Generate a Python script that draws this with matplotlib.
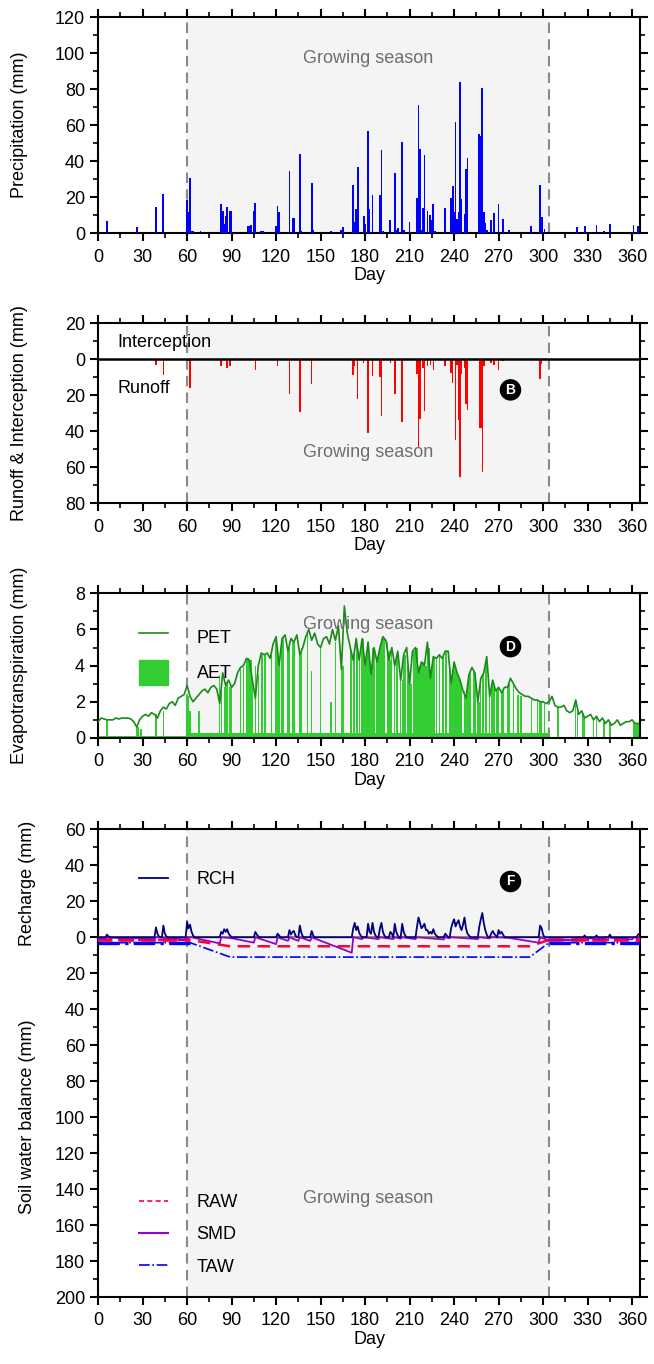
import numpy as np
import matplotlib.pyplot as plt
from matplotlib.ticker import MultipleLocator, FuncFormatter
from matplotlib.lines import Line2D
from matplotlib.patches import Patch

plt.rcParams['font.family'] = ['Liberation Sans', 'DejaVu Sans']
plt.rcParams['font.size'] = 13

# Estação de crescimento (dias)
season_start = 60
season_end = 304

# Precipitação diária (dia, mm)
rain_days = [6, 26, 39, 44, 60, 61, 62, 63, 64, 69, 83, 84, 85, 86, 87, 89, 90,
             101, 102, 103, 105, 106, 110, 111, 120, 121, 122, 129, 131, 132, 136,
             137, 144, 145, 157, 164, 165, 172, 173, 174, 175, 179, 180, 182, 183,
             185, 190, 191, 192, 197, 200, 201, 202, 205, 206, 210, 215, 216, 217,
             218, 219, 220, 222, 224, 225, 226, 227, 234, 238, 239, 240, 241, 242,
             243, 244, 245, 247, 248, 249, 257, 258, 259, 260, 261, 262, 265, 267,
             270, 273, 277, 292, 298, 299, 301, 323, 328, 336, 341, 345, 361, 364]
rain_mm = [7, 3.3, 14.6, 22, 18.5, 12, 30.5, 1.5, 1, 1.5, 16.5, 12.5, 5, 9.5, 14.5, 12.5, 12.5,
           4, 4, 4.5, 12.5, 17, 1.3, 1.3, 4, 15.3, 12, 34.3, 8.5, 8.5, 44,
           1, 28, 2, 1.5, 2, 3.5, 27, 6, 13.5, 36.5, 9.5, 5, 57, 13.5,
           21.5, 21.5, 46, 1, 7.5, 33.5, 2, 3, 50.5, 2, 6.5, 19.5, 71, 47,
           2, 14, 43.5, 12.5, 10, 7.5, 16, 1, 14, 19.5, 26, 12, 61.5, 8,
           12, 84, 19, 10.5, 35.5, 42, 55, 54, 80.5, 12, 5.5, 2, 7.5, 11,
           16, 8, 2, 4, 27, 9, 2.5, 3.5, 4, 4.5, 1, 5, 4.5, 4]

# Escoamento superficial (dia, mm)
runoff_days = [39, 44, 61, 62, 83, 87, 89, 106, 121, 129, 136, 144, 172, 173, 175,
               179, 182, 185, 190, 191, 197, 200, 205, 215, 216, 217, 219, 220, 222,
               224, 226, 234, 238, 239, 241, 242, 243, 244, 245, 247, 248, 249, 257,
               258, 259, 260, 265, 267, 270, 273, 298, 299]
runoff_mm = [3, 9, 1, 16, 4, 5, 3.5, 6, 4, 19.5, 29.5, 14, 9, 4, 22,
             2, 41, 9.5, 10, 31.5, 2, 19.5, 35, 8, 49.5, 33, 5, 29, 4,
             3, 6, 4, 7.5, 13, 45, 3, 34, 65.5, 8, 5, 25, 28, 38,
             38, 62.5, 4, 2, 3, 6, 1, 11, 2.5]

# Evapotranspiração potencial, a cada 2 dias (dias 0, 2, ..., 364)
pet_days = list(range(0, 365, 2))
pet_mm = [0.9, 1.1, 1.05, 1.0, 1.0, 1.0, 1.1, 1.05, 1.1, 1.1,
          1.1, 1.05, 0.9, 0.6, 1.0, 1.2, 1.3, 1.2, 1.4, 1.3,
          1.1, 1.5, 1.7, 1.6, 1.9, 2.0, 1.8, 2.2, 2.3, 2.4,
          2.9, 2.3, 2.0, 2.2, 2.4, 2.6, 2.7, 2.5, 2.8, 2.9,
          2.7, 1.9, 3.6, 2.9, 3.2, 2.8, 3.0, 3.6, 3.9, 4.0,
          4.4, 4.3, 3.2, 2.2, 4.0, 4.7, 4.6, 4.7, 4.4, 5.2,
          5.6, 4.0, 5.5, 5.7, 4.8, 5.5, 5.3, 5.7, 4.6, 5.0,
          5.6, 6.0, 5.4, 5.8, 5.2, 5.0, 5.5, 5.6, 5.2, 6.0,
          5.4, 6.2, 3.8, 7.3, 5.8, 5.0, 4.3, 5.5, 4.3, 5.5,
          4.0, 5.3, 3.5, 5.0, 4.2, 5.0, 5.6, 5.4, 4.3, 5.0,
          4.0, 4.8, 3.2, 4.6, 5.0, 3.0, 4.8, 5.0, 3.6, 4.2,
          4.0, 5.3, 3.3, 4.5, 4.4, 4.6, 4.4, 4.8, 4.8, 3.0,
          4.2, 3.6, 3.2, 2.6, 2.2, 3.5, 3.9, 3.6, 2.0, 3.3,
          3.6, 4.5, 2.3, 3.2, 2.6, 2.8, 2.5, 2.8, 2.8, 3.3,
          3.0, 2.7, 2.5, 2.4, 2.3, 2.3, 2.2, 2.1, 2.1, 2.0,
          2.0, 1.9, 2.0, 2.3, 1.8, 1.7, 1.7, 1.8, 1.5, 1.4,
          1.5, 2.1, 1.3, 1.5, 1.1, 1.2, 1.3, 1.0, 1.2, 0.9,
          1.1, 0.8, 1.0, 0.7, 0.8, 1.0, 0.7, 0.8, 0.9, 0.9,
          1.0, 0.8, 0.8]

# Evapotranspiração real: dias com AET alta (dia, mm)
aet_days = [6, 26, 27, 29, 39, 44, 60, 61, 62, 68, 82, 83, 85, 86, 87, 89, 90,
            96, 98, 100, 101, 102, 103, 104, 106, 108, 110, 111, 112, 113, 117,
            120, 121, 122, 124, 125, 128, 129, 131, 132, 136, 137, 141, 144, 150,
            157, 160, 164, 165,
            170, 171, 172, 173, 174, 175, 176, 178, 179, 180, 181, 182, 183, 184,
            185, 186, 188, 189, 190, 191, 192, 193, 195, 196, 197, 198, 200, 201,
            202, 204, 205, 206, 207, 209, 210, 211, 213, 214, 215, 216, 217, 218,
            219, 220, 221, 222, 223, 224, 225, 226, 227, 228, 230, 232, 233, 234,
            235, 237, 238, 239, 240, 241, 242, 243, 244, 245, 247, 248, 249, 250,
            251, 253, 254, 256, 257, 258, 259, 260, 261, 262, 264, 265, 266, 267,
            269, 270, 272, 273, 276, 277, 280, 283, 285, 292, 296, 298, 299, 301,
            310, 322, 323, 327, 328, 334, 336, 341, 345, 361, 362, 363, 364]
aet_mm = [1.0, 0.6, 0.6, 0.5, 1.3, 1.5, 2.4, 2.3, 1.5, 1.5, 3.5, 3.0, 2.8, 2.9, 3.1, 2.8, 2.8,
          3.8, 3.9, 4.3, 4.4, 4.2, 4.3, 3.2, 4.0, 3.5, 4.6, 4.6, 4.6, 4.6, 4.6,
          5.5, 5.0, 4.0, 5.4, 5.6, 4.8, 5.0, 5.3, 5.3, 4.6, 5.0, 5.8, 3.7, 5.0,
          2.0, 5.3, 3.8, 4.0,
          5.0, 4.6, 4.3, 5.0, 5.5, 5.0, 4.3, 5.4, 5.5, 4.0, 4.6, 5.3, 4.5, 3.5,
          5.0, 5.0, 4.2, 4.6, 5.0, 5.5, 5.6, 5.5, 5.3, 4.8, 4.3, 5.0, 4.0, 4.5,
          4.8, 3.2, 3.2, 4.6, 4.6, 4.0, 3.0, 3.0, 4.8, 4.9, 5.0, 3.6, 4.0, 4.2,
          4.2, 4.0, 4.0, 5.3, 5.0, 3.3, 4.0, 4.5, 4.5, 4.4, 4.6, 4.4, 4.6, 4.8,
          4.8, 3.9, 3.0, 3.5, 4.2, 4.0, 3.6, 3.4, 3.2, 2.9, 2.6, 2.2, 2.8, 3.5,
          3.7, 3.7, 3.6, 2.0, 2.0, 3.3, 3.4, 3.6, 4.0, 4.5, 2.3, 3.0, 3.2, 2.9,
          2.7, 2.8, 2.5, 2.6, 2.8, 3.0, 3.0, 2.4, 2.3, 2.2, 2.1, 2.0, 2.0, 1.9,
          1.7, 2.0, 1.5, 1.4, 1.1, 1.0, 1.2, 0.9, 0.9, 0.9, 0.8, 0.8, 0.8]
# AET de base por trecho (início do trecho, mm)
aet_base_start = [0, 60, 305]
aet_base_mm = [0.08, 0.3, 0.06]

# Recarga (dia, mm)
rch_days = [6, 7, 39, 40, 41, 44, 45, 46, 60, 61, 62, 63, 64, 83, 84, 85, 86, 87, 88, 89,
            106, 107, 108, 121, 122, 129, 130, 131, 132, 133, 136, 137, 138, 144, 145,
            172, 173, 174, 175, 176, 177, 182, 183, 184, 185, 186, 187, 190, 191, 192, 193,
            197, 198, 200, 201, 202, 205, 206, 207, 215, 216, 217, 218, 219, 220, 221, 222,
            223, 224, 225, 226, 227, 228, 234, 235, 238, 239, 240, 241, 242, 243, 244, 245,
            246, 247, 248, 249, 250, 257, 258, 259, 260, 261, 262, 265, 266, 267, 268, 270,
            271, 272, 273, 298, 299, 300, 328, 336, 345, 364, 365]
rch_mm = [1.5, 0.5, 5.5, 2, 0.5, 6.5, 2, 0.5, 8.5, 5, 7, 3, 1, 3, 2, 4.5, 3, 4.5, 2, 1,
          3, 1.5, 0.5, 2, 1, 4, 1.5, 3, 3.5, 1, 6.5, 2.5, 0.5, 3.5, 1,
          5, 8, 4, 6, 2.5, 1, 7.5, 3, 2, 8, 3, 1, 5, 8, 3, 1,
          3, 2, 7.5, 3, 1, 7.5, 3, 1, 6, 11, 8, 5, 6, 7.5, 4, 4,
          2, 3, 2, 4.5, 2, 1, 2, 1, 5, 8, 10, 6, 8, 9.5, 6, 4,
          7, 11, 5, 2, 1, 6, 10, 13.5, 8, 4, 1.5, 2, 3.5, 2, 1, 4,
          2, 3, 1.5, 6.5, 5, 1.5, 1, 1, 1.5, 1.5, 2]

# Déficit de umidade do solo (pontos de quebra)
smd_days = [0, 5, 6, 20, 26, 38, 39, 44, 58, 60, 63, 82, 83, 90, 105, 106, 120, 121,
            128, 129, 135, 136, 143, 144, 171, 172, 178, 179, 189, 190, 199, 200, 204,
            205, 214, 215, 233, 234, 237, 238, 256, 257, 264, 265, 276, 297, 298, 304,
            305, 322, 323, 340, 341, 360, 361, 365]
smd_mm = [0.5, 1.0, 0, 0.8, 0.5, 1.2, 0, 0.3, 1.2, 0, 0, 3.4, 0, 0.5, 3.0, 0, 3.8, 0,
          2.0, 0, 2.0, 0, 2.0, 0, 8.6, 0, 1.0, 0, 1.0, 0, 1.0, 0, 0.8,
          0, 1.0, 0, 1.2, 0, 0.5, 0, 1.0, 0, 0.6, 0, 0.2, 3.0, 0, 1.8,
          1.5, 1.5, 0, 1.2, 0, 1.2, 0, 0.3]

# Água prontamente disponível e total disponível
raw_days = [0, 62, 89, 291, 304, 365]
raw_mm = [1.5, 1.5, 5.0, 5.0, 1.5, 1.5]
taw_days = [0, 62, 89, 291, 304, 365]
taw_mm = [3.0, 3.0, 11.0, 11.0, 3.0, 3.0]

day = np.arange(0, 366)
rch = np.zeros(len(day))
rch[rch_days] = rch_mm
aet_base = np.zeros(len(day))
for i, d0 in enumerate(aet_base_start):
    aet_base[d0:] = aet_base_mm[i]

FS = 13


def estilo(ax, ymin, ymax, ymaj, ymin_step, absoluto=False):
    ax.set_xlim(0, 365.5)
    ax.set_ylim(ymin, ymax)
    ax.xaxis.set_major_locator(MultipleLocator(30))
    ax.xaxis.set_minor_locator(MultipleLocator(15))
    ax.yaxis.set_major_locator(MultipleLocator(ymaj))
    ax.yaxis.set_minor_locator(MultipleLocator(ymin_step))
    if absoluto:
        ax.yaxis.set_major_formatter(FuncFormatter(lambda v, p: '%d' % abs(v)))
    ax.tick_params(which='both', direction='out', top=True, right=True, labelsize=FS)
    ax.tick_params(axis='x', pad=5)
    ax.tick_params(which='major', length=6, width=1.5)
    ax.tick_params(which='minor', length=3.5, width=1.2)
    for s in ax.spines.values():
        s.set_linewidth(1.5)
    ax.set_xlabel('Day', fontsize=FS, labelpad=1)
    ax.yaxis.set_label_coords(-0.13, 0.5)


def estacao(ax, ytext):
    ax.axvspan(season_start, season_end, color='#f4f4f4', zorder=0, lw=0)
    for d in (season_start, season_end):
        ax.axvline(d, color='#8a8a8a', ls=(0, (5, 3)), lw=1.5, zorder=1)
    ax.text((season_start + season_end) / 2, ytext, 'Growing season', color='#6e6e6e',
            fontsize=FS, ha='center', va='center', zorder=5)


def etiqueta(ax, x, y, s):
    ax.text(x, y, s, color='white', fontsize=10, fontweight='bold', ha='center', va='center',
            zorder=6, bbox=dict(boxstyle='circle,pad=0.22', fc='black', ec='black'))


fig = plt.figure(figsize=(6.54, 13.64), dpi=100)
L, W = 0.150, 0.829
ax1 = fig.add_axes([L, 0.829, W, 0.1585])
ax2 = fig.add_axes([L, 0.631, W, 0.132])
ax3 = fig.add_axes([L, 0.459, W, 0.106])
ax4 = fig.add_axes([L, 0.049, W, 0.343])

# Precipitação
estacao(ax1, 97)
ax1.bar(rain_days, rain_mm, width=1.2, color='#0000ff', lw=0, zorder=3)
estilo(ax1, 0, 120, 20, 10)
ax1.set_ylabel('Precipitation (mm)', fontsize=FS)

# Escoamento e interceptação
estacao(ax2, 52)
ax2.bar(runoff_days, runoff_mm, width=1.0, color='#ff0000', lw=0, zorder=3)
ax2.axhline(0, color='black', lw=1.8, zorder=4)
estilo(ax2, 80, -20, 20, 10, absoluto=True)
ax2.set_ylabel('Runoff & Interception (mm)', fontsize=FS)
ax2.text(13, -9.5, 'Interception', fontsize=FS, va='center', zorder=5)
ax2.text(13, 16, 'Runoff', fontsize=FS, va='center', zorder=5)
etiqueta(ax2, 278, 17, 'B')

# Evapotranspiração
estacao(ax3, 6.3)
ax3.bar(day, aet_base, width=1.0, color='#33cc33', lw=0, zorder=2)
ax3.bar(aet_days, aet_mm, width=0.9, color='#33cc33', lw=0, zorder=2)
ax3.plot(pet_days, pet_mm, color='#1a8a1a', lw=1.2, zorder=3)
estilo(ax3, 0, 8, 2, 1)
ax3.set_ylabel('Evapotranspiration (mm)', fontsize=FS)
ax3.legend([Line2D([], [], color='#1a8a1a', lw=1.2), Patch(color='#33cc33')],
           ['PET', 'AET'], loc='upper left', bbox_to_anchor=(0.045, 0.9),
           frameon=False, fontsize=FS, handlelength=1.6, handleheight=1.8,
           labelspacing=0.55, handletextpad=1.6)
etiqueta(ax3, 278, 5.05, 'D')

# Recarga e balanço hídrico do solo
estacao(ax4, 145)
ax4.axhline(0, color='#7f7f1f', lw=1.2, zorder=2)
ax4.plot(taw_days, taw_mm, color='#0000ff', ls='-.', lw=1.2, zorder=3)
ax4.plot(taw_days[:2], taw_mm[:2], color='#0000ff', ls='-.', lw=2.4, zorder=3)
ax4.plot(taw_days[-2:], taw_mm[-2:], color='#0000ff', ls='-.', lw=2.4, zorder=3)
ax4.plot(raw_days, raw_mm, color='#ff0033', ls=(0, (5, 3)), lw=1.8, zorder=3)
ax4.plot(raw_days[:2], raw_mm[:2], color='#ff0033', ls=(0, (4, 2)), lw=2.6, zorder=3)
ax4.plot(raw_days[-2:], raw_mm[-2:], color='#ff0033', ls=(0, (4, 2)), lw=2.6, zorder=3)
ax4.plot(smd_days, smd_mm, color='#9900cc', lw=1.3, zorder=3)
ax4.plot(day, -rch, color='#000080', lw=1.3, zorder=4)
estilo(ax4, 200, -60, 20, 10, absoluto=True)
ax4.text(-0.13, 0.885, 'Recharge (mm)', transform=ax4.transAxes, rotation=90,
         ha='center', va='center', fontsize=FS)
ax4.text(-0.13, 0.385, 'Soil water balance (mm)', transform=ax4.transAxes, rotation=90,
         ha='center', va='center', fontsize=FS)
leg4a = ax4.legend([Line2D([], [], color='#000080', lw=1.3)], ['RCH'], loc='upper left',
                   bbox_to_anchor=(0.045, 0.945), frameon=False, fontsize=FS,
                   handlelength=1.6, handletextpad=1.6)
ax4.add_artist(leg4a)
ax4.legend([Line2D([], [], color='#ff0033', ls=(0, (3, 2)), lw=1.2),
            Line2D([], [], color='#9900cc', lw=1.5),
            Line2D([], [], color='#0000ff', ls='-.', lw=1.2)],
           ['RAW', 'SMD', 'TAW'], loc='upper left', bbox_to_anchor=(0.045, 0.255),
           frameon=False, fontsize=FS, handlelength=1.6, handletextpad=1.6,
           labelspacing=0.85)
etiqueta(ax4, 278, -31, 'F')

fig.savefig('out.png', dpi=100)
